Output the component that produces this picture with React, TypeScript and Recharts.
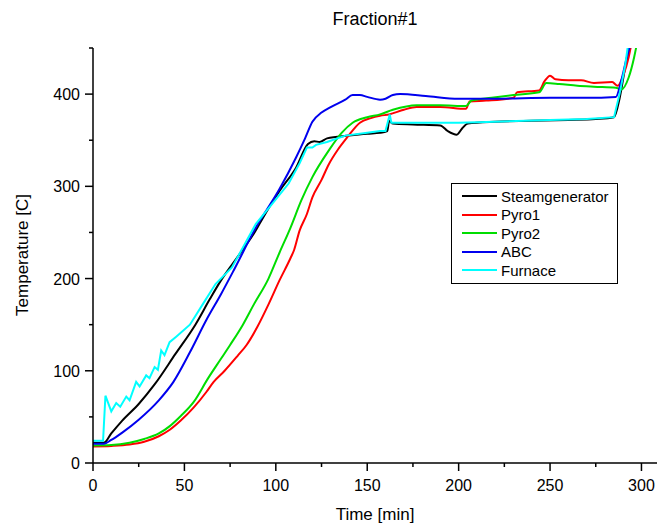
import { LineChart, Line, XAxis, YAxis } from "recharts";

// [time (min), temperature (C)] pairs
const steamgenerator = [
  [0, 22], [6, 22], [10, 32], [16, 46], [25, 64], [34, 86], [45, 118], [56, 150],
  [64, 178], [70, 198], [80, 226], [89, 252], [93, 266], [102, 295], [111, 320],
  [117.6, 346], [121, 349], [124, 348], [128, 352], [140, 355], [150, 357], [157, 358],
  [161, 360], [162, 371], [164, 368], [175, 367], [190, 366], [194, 360], [199, 356],
  [202, 363], [205, 368], [220, 370], [240, 371], [260, 372], [275, 373], [285, 375],
  [288, 395], [291, 428], [294, 458],
];
const pyro1 = [
  [0, 18], [10, 18.5], [20, 20], [28, 23], [36, 29], [42, 36], [48, 46], [55, 60],
  [62, 77], [66, 88], [72, 100], [79, 116], [84, 128], [90, 148], [96, 172], [102, 198],
  [108, 222], [110, 231], [113, 252], [117, 270], [120, 288], [125, 307], [129, 324],
  [134, 340], [139, 353], [146, 369], [152, 374], [157, 376.5], [162, 378], [170, 383],
  [177, 386], [190, 386], [204, 384], [206, 392], [215, 393], [230, 396], [232, 402],
  [244, 404], [247, 414], [250, 420], [253, 416], [260, 415], [267, 415], [274, 412],
  [284, 413], [287, 409], [290, 420], [293, 440], [295, 460],
];
const pyro2 = [
  [0, 19], [10, 19.5], [20, 22], [28, 26], [36, 32], [42, 40], [48, 51], [55, 66],
  [63, 92], [70, 113], [75, 128], [82, 150], [88, 172], [96, 200], [102, 228],
  [108, 255], [114, 285], [120, 310], [129, 339], [136, 358], [142, 369], [150, 375],
  [157, 378], [164, 383], [177, 388], [190, 388], [204, 387], [207, 393], [218, 396],
  [230, 399], [244, 402], [248, 412], [255, 411], [265, 409], [274, 408], [286, 407],
  [289, 405], [293, 418], [296, 440], [298, 460],
];
const abc = [
  [0, 21], [6, 21], [10, 25], [16, 33], [25, 47], [36, 68], [44, 88], [53, 120],
  [62, 155], [70, 183], [77, 209], [89, 255], [102, 297], [111, 331], [116, 352],
  [120, 370], [125, 380], [130, 386], [138, 394], [142, 399], [146, 399], [150, 397],
  [157, 394], [160, 395], [164, 399], [168, 400], [182, 398], [200, 395], [220, 395],
  [250, 396], [270, 396], [286, 397], [289, 415], [292, 440], [295, 460],
];
const furnace = [
  [0, 24], [5.5, 24], [6.8, 73], [10, 56], [12.7, 65], [14.9, 61], [18.2, 72], [20, 68],
  [23.6, 88], [25.5, 83], [29.1, 95], [30.9, 92], [33.7, 104], [35.5, 101], [37.3, 122],
  [39.1, 117], [41.9, 131], [45.5, 137], [53, 150], [60, 172], [67, 194], [76, 212],
  [89, 259], [98, 281], [107, 303], [113, 325], [117, 342], [120, 342], [122, 345],
  [128, 348], [138, 355], [150, 358], [157, 360], [160, 360], [162.3, 378], [163.2, 369],
  [180, 369], [200, 369], [220, 370], [250, 372], [270, 373], [285, 375], [288, 400],
  [291, 430], [293, 458],
];

const seriesNames = ["Steamgenerator", "Pyro1", "Pyro2", "ABC", "Furnace"];
const seriesColors = ["#000000", "#ff0000", "#00dd00", "#0000ee", "#00ffff"];
const seriesData = [steamgenerator, pyro1, pyro2, abc, furnace];
const seriesCurve = ["monotone", "monotone", "monotone", "monotone", "linear"];

const xTicks = [0, 25, 50, 75, 100, 125, 150, 175, 200, 225, 250, 275, 300];
const yTicks = [0, 50, 100, 150, 200, 250, 300, 350, 400, 450];

const FONT = "'Liberation Sans', Arial, sans-serif";

const BottomTick = ({ x, y, payload }: any) => {
  const major = payload.value % 50 === 0;
  return (
    <g>
      <line x1={x} x2={x} y1={y} y2={y + (major ? 8 : 4)} stroke="#000" strokeWidth={1.5} />
      {major && (
        <text x={x} y={y + 28} textAnchor="middle" fontSize={16} fontFamily={FONT} fill="#000">
          {payload.value}
        </text>
      )}
    </g>
  );
};

const TopTick = ({ x, y, payload }: any) => {
  const major = payload.value % 50 === 0;
  return <line x1={x} x2={x} y1={y} y2={y - (major ? 8 : 4)} stroke="#000" strokeWidth={1.5} />;
};

const LeftTick = ({ x, y, payload }: any) => {
  const major = payload.value % 100 === 0;
  return (
    <g>
      <line x1={x} x2={x - (major ? 8 : 4)} y1={y} y2={y} stroke="#000" strokeWidth={1.5} />
      {major && (
        <text x={x - 13} y={y + 6} textAnchor="end" fontSize={16} fontFamily={FONT} fill="#000">
          {payload.value}
        </text>
      )}
    </g>
  );
};

export default function App() {
  return (
    <div style={{ position: "absolute", left: 0, top: 0, width: 657, height: 527, background: "#fff", fontFamily: FONT }}>
      <LineChart width={657} height={527} margin={{ top: 48, right: 0, left: 43, bottom: 34 }}>
        <XAxis
          type="number"
          dataKey="t"
          domain={[0, 308.5]}
          ticks={xTicks}
          allowDataOverflow
          height={30}
          tickSize={0}
          tickMargin={0}
          tickLine={false}
          tick={<BottomTick />}
          axisLine={{ stroke: "#000", strokeWidth: 1.5 }}
          interval={0}
        />
        <XAxis
          xAxisId="top"
          orientation="top"
          type="number"
          dataKey="t"
          domain={[0, 308.5]}
          ticks={xTicks}
          allowDataOverflow
          height={0}
          tickSize={0}
          tickMargin={0}
          tickLine={false}
          tick={<TopTick />}
          axisLine={{ stroke: "#000", strokeWidth: 1.5 }}
          interval={0}
        />
        <YAxis
          type="number"
          dataKey="v"
          domain={[0, 450]}
          ticks={yTicks}
          allowDataOverflow
          width={50}
          tickSize={0}
          tickMargin={0}
          tickLine={false}
          tick={<LeftTick />}
          axisLine={{ stroke: "#000", strokeWidth: 1.5 }}
          interval={0}
        />
        {seriesNames.map((name, i) => (
          <Line
            key={name}
            name={name}
            data={seriesData[i].map(([t, v]) => ({ t, v }))}
            dataKey="v"
            type={seriesCurve[i] as any}
            stroke={seriesColors[i]}
            strokeWidth={2}
            dot={false}
            isAnimationActive={false}
          />
        ))}
        <text x={375} y={25} textAnchor="middle" fontSize={18} fontFamily={FONT} fill="#000">
          Fraction#1
        </text>
        <text x={375} y={520} textAnchor="middle" fontSize={17} fontFamily={FONT} fill="#000">
          Time [min]
        </text>
        <text
          x={28}
          y={255}
          textAnchor="middle"
          fontSize={17}
          fontFamily={FONT}
          fill="#000"
          transform="rotate(-90 28 255)"
        >
          Temperature [C]
        </text>
      </LineChart>
      <div
        style={{
          position: "absolute",
          left: 451,
          top: 183,
          border: "1px solid #000",
          background: "#fff",
          padding: "3px 8px 3px 10px",
        }}
      >
        {seriesNames.map((name, i) => (
          <div key={name} style={{ display: "flex", alignItems: "center", height: 18.5, fontSize: 15 }}>
            <span style={{ display: "inline-block", width: 35, height: 2, background: seriesColors[i], marginRight: 4 }} />
            <span>{name}</span>
          </div>
        ))}
      </div>
    </div>
  );
}
